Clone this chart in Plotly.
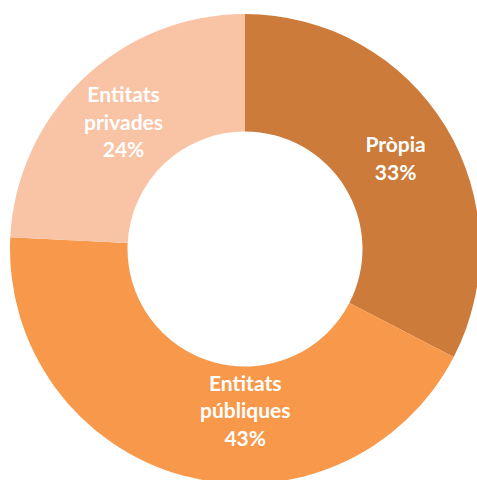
import plotly.graph_objects as go

labels = ["Pròpia", "Entitats públiques", "Entitats privades"]
display = ["Pròpia", "Entitats<br>públiques", "Entitats<br>privades"]
values = [32.6, 43.2, 24.2]
colors = ["#CC7B3A", "#F7984A", "#F9C3A6"]

font = dict(family="Lato", size=21, color="white", weight="bold")
total = sum(values)

# labels inside the slices; the public-entities label sits at the ring's bottom
templates = [
    "%{text}<br>%{percent:.0%}",
    "",
    "%{text}<br>%{percent:.0%}",
]

fig = go.Figure(go.Pie(
    labels=labels,
    values=values,
    text=display,
    texttemplate=templates,
    textposition="inside",
    insidetextorientation="horizontal",
    hole=0.5,
    sort=False,
    direction="clockwise",
    rotation=0,
    marker=dict(colors=colors, line=dict(width=0)),
    textfont=font,
    showlegend=False,
    hoverinfo="none",
    domain=dict(x=[0, 1], y=[0, 1]),
))
fig.add_annotation(
    x=0.5, y=0.157, xref="paper", yref="paper",
    text=f"{display[1]}<br>{round(values[1] / total * 100)}%",
    showarrow=False, font=font, xanchor="center", yanchor="middle",
)
# the reference chart is slightly cropped at its right and bottom edges
fig.update_layout(
    width=480, height=484,
    margin=dict(l=10, r=0, t=14, b=0),
    paper_bgcolor="white",
    uniformtext=dict(minsize=21, mode="show"),
)
fig.write_html(
    "out.html",
    config={"displayModeBar": False},
    post_script="document.body.style.margin='0';document.body.style.overflow='hidden';",
)
